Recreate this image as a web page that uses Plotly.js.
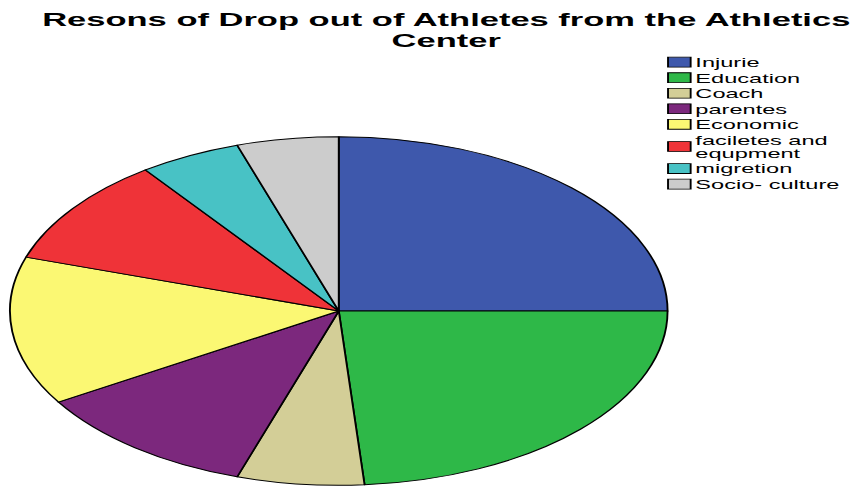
<!DOCTYPE html>
<html>
<head>
<meta charset="utf-8">
<script src="https://cdn.plot.ly/plotly-3.0.1.min.js"></script>
<style>
  html, body { margin: 0; padding: 0; background: #ffffff; overflow: hidden; }
  #wrap { width: 850px; height: 487px; overflow: hidden; }
  #chart { width: 450.7px; height: 487px; transform: scaleX(1.886); transform-origin: 0 0; }
</style>
</head>
<body>
<div id="wrap"><div id="chart"></div></div>
<script>
// Data (counts, n = 80)
const categories = ["Injurie", "Education", "Coach", "parentes", "Economic", "faciletes and<br>equpment", "migretion", "Socio- culture"];
const counts = [20, 19, 5, 9, 11, 8, 4, 4];
const colors = ["#3E58AC", "#2EB848", "#D3CE97", "#7C287D", "#FBF873", "#EF3338", "#48C2C5", "#CCCCCC"];
const titleText = "Resons of Drop out of Athletes from the Athletics<br>Center";

const W = 450.7, H = 487;

const trace = {
  type: "pie",
  labels: categories,
  values: counts,
  sort: false,
  direction: "clockwise",
  rotation: 0,
  textinfo: "none",
  hoverinfo: "label+value+percent",
  marker: { colors: colors, line: { color: "#000000", width: 1 } },
  domain: { x: [5.3 / W, 355.3 / W], y: [1 - 486 / H, 1 - 136 / H] }
};

const layout = {
  width: W,
  height: H,
  margin: { l: 0, r: 0, t: 0, b: 0 },
  paper_bgcolor: "#ffffff",
  font: { family: "Arial, 'Liberation Sans', sans-serif", color: "#000000" },
  title: {
    text: titleText,
    font: { family: "Arial, 'Liberation Sans', sans-serif", size: 18.3, weight: 700, color: "#000000" },
    x: 0.527, xanchor: "center", xref: "paper",
    y: 1 - 26.5 / H, yanchor: "top", yref: "container"
  },
  showlegend: true,
  legend: {
    x: 330 / W, xanchor: "left",
    y: 1 - 47.5 / H, yanchor: "top",
    bgcolor: "rgba(0,0,0,0)",
    font: { family: "Arial, 'Liberation Sans', sans-serif", size: 12.5, color: "#000000" },
    traceorder: "normal"
  }
};

function tighten(gd) {
  // SPSS-style legend: tighter rows and swatches close to their labels
  const items = gd.querySelectorAll(".legend g.traces");
  const re = /translate\(\s*([-\d.e]+)\s*[, ]\s*([-\d.e]+)\s*\)/;
  let y0 = null;
  items.forEach(function (g) {
    const m = re.exec(g.getAttribute("transform") || "");
    if (!m) return;
    const x = parseFloat(m[1]), y = parseFloat(m[2]);
    if (y0 === null) y0 = y;
    g.setAttribute("transform", "translate(" + x + "," + (y0 + (y - y0) * 0.808) + ")");
  });
  gd.querySelectorAll(".legend path.legendpie").forEach(function (p) {
    p.setAttribute("transform", "translate(31.5,0) scale(1,0.82)");
  });
  gd.querySelectorAll(".legend text.legendtext").forEach(function (t) {
    const lines = t.querySelectorAll("tspan.line");
    if (lines.length > 1) {
      for (let i = 1; i < lines.length; i++) lines[i].setAttribute("dy", "1em");
      const shift = 1.9;
      if (t.hasAttribute("y")) t.setAttribute("y", parseFloat(t.getAttribute("y")) + shift);
      lines.forEach(function (s) { if (s.hasAttribute("y")) s.setAttribute("y", parseFloat(s.getAttribute("y")) + shift); });
    }
  });
  // title: slightly tighter line spacing, as in the reference
  gd.querySelectorAll(".gtitle tspan.line").forEach(function (s, i) {
    if (i > 0) s.setAttribute("dy", "1.12em");
  });
}

Plotly.newPlot("chart", [trace], layout, { displayModeBar: false, responsive: false }).then(tighten);
</script>
</body>
</html>
